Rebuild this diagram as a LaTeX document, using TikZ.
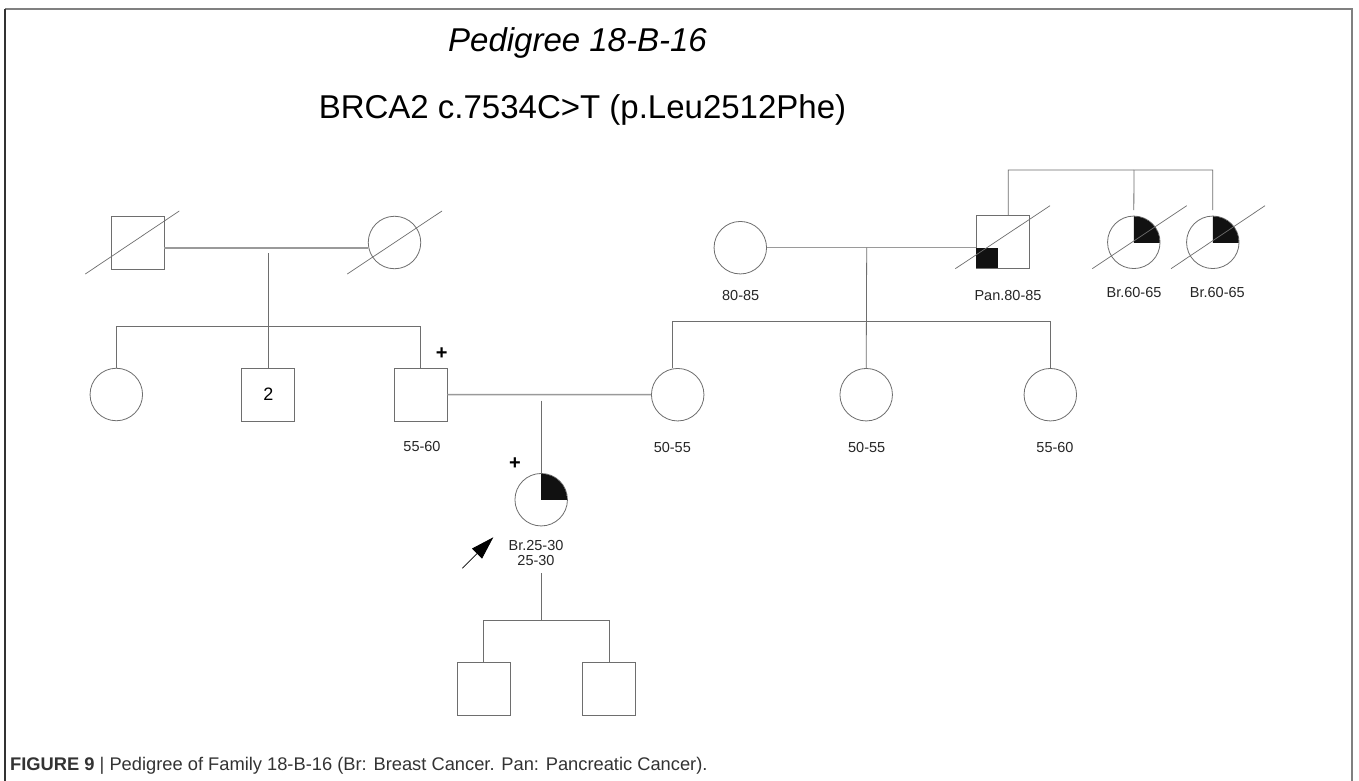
\documentclass[tikz,border=0pt]{standalone}
\usepackage{fontspec}
\setmainfont{Liberation Sans}
\usetikzlibrary{arrows.meta}
\definecolor{lc}{HTML}{6E6E6E}
\definecolor{mc}{HTML}{9A9A9A}
\definecolor{fillc}{HTML}{111111}
\definecolor{capc}{HTML}{333333}
\tikzset{
  male/.style={draw=lc, rectangle, minimum size=53pt, inner sep=0pt, line width=0.8pt},
  female/.style={draw=lc, circle, minimum size=52.5pt, inner sep=0pt, line width=0.8pt},
  link/.style={draw=lc, line width=0.8pt},
  marr/.style={draw=mc, line width=1.5pt},
  dead/.style={draw=lc, line width=0.7pt},
  lab/.style={font=\fontsize{14.5}{15.7}\selectfont, text=black!85, inner sep=0pt},
  plus/.style={font=\fontsize{20}{22}\selectfont\bfseries, inner sep=0pt},
}
\begin{document}
\begin{tikzpicture}[x=1pt,y=-1pt]
\useasboundingbox (0,0) rectangle (1359,781);
\fill[white] (0,0) rectangle (1359,781);
% frame
\draw[draw=black!50, line width=1.5pt] (5,9) -- (1352,9) -- (1352,781);
\draw[draw=black!80, line width=1.2pt] (5,9) -- (5,781);

% titles
\node[font=\fontsize{33}{36}\selectfont\itshape, anchor=base, inner sep=0pt] (title) at (577.5,51.7) {Pedigree 18-B-16};
\node[font=\fontsize{33}{36}\selectfont, anchor=base, inner sep=0pt] (sub) at (582.5,118.3) {BRCA2 c.7534C>T (p.Leu2512Phe)};

% ---------- paternal grandparents ----------
\node[male] (gf) at (137.5,242.5) {};
\node[female] (gm) at (394.5,242.5) {};
\draw[marr] ([yshift=-5.5pt]gf.east) -- ([yshift=-5.5pt]gm.west);
\draw[dead] (85.3,274) -- (179.3,211);
\draw[dead] (347.3,274) -- (442,211);

\node[female] (aunt) at (116.3,394.5) {};
\node[male, font=\fontsize{18}{20}\selectfont] (two) at (268.3,394.5) {2};
\node[male] (father) at (420.5,394.5) {};
\coordinate (gpd) at (268.3,253.3);
\coordinate (sibL) at (116.3,326.7);
\coordinate (sibR) at (420.5,326.7);
\draw[link] (gpd) -- (two.north);
\draw[link] (aunt.north) -- (sibL) -- (sibR) -- (father.north);
\node[plus] (pf) at (441.7,353.3) {+};
\node[lab] (lfa) at (422,447) {55-60};

% ---------- maternal grandparents ----------
\node[female] (mgm) at (740.3,247.7) {};
\node[male] (mgf) at (1002.5,242.3) {};
\fill[fillc] (976.4,247.7) rectangle (997.7,268.3);
\draw[marr] (mgm.east) -- (mgf.west |- mgm.east);
\draw[dead] (955.3,268.7) -- (1050,205.7);
\node[lab] (lmgm) at (740.7,296) {80-85};
\node[lab] (lmgf) at (1008,296) {Pan.80-85};

% great-aunts (sisters of maternal grandfather)
\node[female] (ga1) at (1133.8,242.3) {};
\node[female] (ga2) at (1212.8,242.3) {};
\begin{scope}
  \clip (1133.8,242.3) rectangle ++(30,-30);
  \fill[fillc] (1133.8,242.3) circle[radius=25.9];
\end{scope}
\begin{scope}
  \clip (1212.8,242.3) rectangle ++(30,-30);
  \fill[fillc] (1212.8,242.3) circle[radius=25.9];
\end{scope}
\draw[dead] (1092.3,268.7) -- (1186.7,205.7);
\draw[dead] (1171,268.7) -- (1265,205.7);
\coordinate (gsA) at (1008.3,170);
\coordinate (gsB) at (1134,170);
\coordinate (gsC) at (1212.7,170);
\draw[link] ([xshift=5.8pt]mgf.north) -- (gsA) -- (gsC) -- ([yshift=5.5pt]ga2.north);
\draw[link] (gsB) -- ([yshift=5.5pt]ga1.north);
\node[lab] (lga1) at (1134,292.7) {Br.60-65};
\node[lab] (lga2) at (1217.3,292.7) {Br.60-65};

% mother and her sisters
\node[female] (mother) at (677.7,394.7) {};
\node[female] (ms1) at (866.2,394.7) {};
\node[female] (ms2) at (1050.3,394.7) {};
\coordinate (mgd) at (866.7,247.7);
\coordinate (msL) at (672.3,321.7);
\coordinate (msR) at (1050.3,321.7);
\draw[link] (mgd) -- (ms1.north);
\draw[link] (msL |- mother.north) -- (msL) -- (msR) -- (ms2.north);
\node[lab] (lmo) at (672.3,447.3) {50-55};
\node[lab] (lms1) at (866.7,447.3) {50-55};
\node[lab] (lms2) at (1055,447.3) {55-60};

% parents marriage
\draw[marr] (father.east) -- (mother.west);

% ---------- proband ----------
\node[female] (prob) at (541.2,499.7) {};
\begin{scope}
  \clip (541.2,499.7) rectangle ++(30,-30);
  \fill[fillc] (541.2,499.7) circle[radius=25.9];
\end{scope}
\coordinate (pd) at (541.2,400.7);
\draw[link] (pd) -- (prob.north);
\node[plus] (pp) at (515,463.3) {+};
\node[lab, align=center] (lprob) at (536,553) {Br.25-30\\25-30};
\coordinate (arT) at (462.3,568.3);
\coordinate (arH) at (493.3,537.3);
\draw[draw=black, line width=0.8pt, -{Triangle[length=23pt,width=14pt]}] (arT) -- (arH);

% children
\node[male] (son1) at (483.7,688.8) {};
\node[male] (son2) at (609.2,688.8) {};
\coordinate (cd) at (541.2,573.3);
\coordinate (cdm) at (541.2,620.7);
\draw[link] (cd) -- (cdm);
\draw[link] (son1.north) -- (son1.north |- cdm) -- (son2.north |- cdm) -- (son2.north);

% caption
\node[anchor=base west, inner sep=0pt, text=capc, font=\fontsize{18.3}{20}\selectfont] (cap) at (10,770)
  {{\bfseries FIGURE 9} | Pedigree of Family 18-B-16 (Br: Breast Cancer. Pan: Pancreatic Cancer).};
\end{tikzpicture}
\end{document}
